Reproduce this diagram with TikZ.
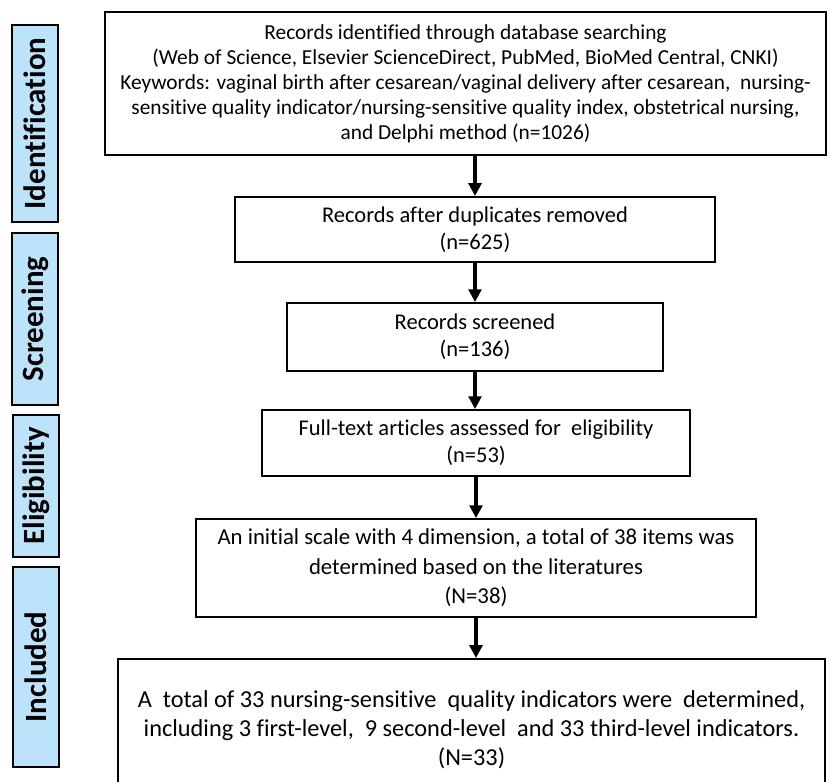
\documentclass[tikz,border=0pt]{standalone}
\usepackage{fontspec}
\setmainfont[Ligatures=NoCommon]{Carlito}
\usetikzlibrary{arrows.meta,calc}
\definecolor{stageblue}{RGB}{189,227,250}

\begin{document}
\begin{tikzpicture}[x=0.025cm, y=-0.025cm,
    box/.style={draw, line width=1.3pt, align=center, inner sep=0pt,
        font=\fontsize{16}{19.5}\selectfont},
    stage/.style={draw, line width=1.5pt, fill=stageblue, rotate=90,
        inner sep=0pt, minimum height=1.15cm,
        font=\fontsize{22}{24}\selectfont\bfseries},
    flow/.style={line width=2.2pt, -{Triangle[length=0.32cm, width=0.32cm]}}]
    \useasboundingbox (0, 0) rectangle (830, 782);

    % Stages
    \node[stage, minimum width=4.93cm] (identification) at (35, 123.5) {Identification};
    \node[stage, minimum width=4.3cm] (screening) at (35, 319) {Screening};
    \node[stage, minimum width=3.53cm] (eligibility) at (36, 486) {Eligibility};
    \node[stage, minimum width=5cm] (included) at (36, 667) {Included};

    % Flow boxes
    \node[box, font=\fontsize{15.2}{17.8}\selectfont, minimum width=18.03cm,
        minimum height=3.58cm] (records) at (465.5, 83.5) {
        Records identified through database searching\\
        (Web of Science, Elsevier ScienceDirect, PubMed, BioMed Central, CNKI)\\
        Keywords: vaginal birth after cesarean/vaginal delivery after cesarean,\ \ nursing-\\
        sensitive quality indicator/nursing-sensitive quality index, obstetrical nursing,\\
        and Delphi method (n=1026)};
    \node[box, minimum width=12cm, minimum height=1.63cm] (duplicates) at (475, 229.5) {
        Records after duplicates removed\\
        (n=625)};
    \node[box, minimum width=9.4cm, minimum height=1.7cm] (screened) at (475, 337) {
        Records screened\\
        (n=136)};
    \node[box, minimum width=10.68cm, minimum height=1.65cm] (fulltext) at (476, 443) {
        Full-text articles assessed for\ \ eligibility\\
        (n=53)};
    \node[box, font=\fontsize{16.2}{21}\selectfont, minimum width=14cm,
        minimum height=2.45cm] (scale) at (476, 568) {
        An initial scale with 4 dimension, a total of 38 items was\\
        determined based on the literatures\\
        (N=38)};
    \node[box, font=\fontsize{17.3}{20.5}\selectfont, minimum width=17.68cm,
        minimum height=3.53cm] (indicators) at (471.5, 729.5) {
        A\ \ total of 33 nursing-sensitive\ \ quality indicators were\ \ determined,\\
        including 3 first-level,\ \ 9 second-level\ \ and 33 third-level indicators.\\
        (N=33)};

    \draw[flow] (records.south -| duplicates.north) -- (duplicates.north);
    \draw[flow] (duplicates.south -| screened.north) -- (screened.north);
    \draw[flow] (screened.south) -- (fulltext.north -| screened.south);
    \draw[flow] (fulltext.south) -- (scale.north -| fulltext.south);
    \draw[flow] (scale.south) -- (indicators.north -| scale.south);
\end{tikzpicture}
\end{document}
